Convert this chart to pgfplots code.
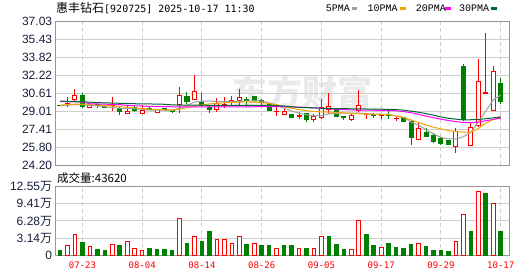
\documentclass[border=0pt]{standalone}
\usepackage{fontspec}
\setmainfont{Liberation Sans}
\newfontfamily\cjk{Noto Sans CJK SC}
\newfontfamily\mono{DejaVu Sans Mono}
\newfontfamily\serifmono{Liberation Mono}
\usepackage{pgfplots}
\usepackage{pgfplotstable}
\pgfplotsset{compat=1.18}

\definecolor{upred}{RGB}{255,0,0}
\definecolor{dngreen}{RGB}{0,128,0}
\definecolor{maA}{RGB}{160,160,160}
\definecolor{maB}{RGB}{240,165,0}
\definecolor{maC}{RGB}{255,0,255}
\definecolor{maD}{RGB}{0,102,51}
\definecolor{gridc}{RGB}{206,206,206}
\definecolor{framec}{RGB}{150,150,150}
\definecolor{ticktext}{RGB}{25,30,60}
\definecolor{wmark}{RGB}{234,234,234}

\pgfplotstableread{
i o h l c u
0 29.58 29.62 29.50 29.55 0
1 29.68 30.26 29.37 29.76 1
2 30.08 31.06 29.96 30.46 1
3 30.40 30.70 29.28 29.42 0
4 29.37 29.72 29.28 29.57 1
5 29.60 29.65 29.28 29.55 0
6 29.40 29.50 29.33 29.35 0
7 29.55 30.26 29.05 29.62 1
8 29.25 29.42 28.70 29.05 0
9 28.84 29.55 28.80 29.05 1
10 29.35 29.50 29.00 29.12 0
11 28.84 29.60 28.78 29.13 1
12 29.25 29.50 29.10 29.20 0
13 28.92 29.25 28.90 29.19 1
14 29.25 29.30 29.10 29.18 0
15 29.12 29.15 28.90 28.98 0
16 29.64 31.20 28.84 30.46 1
17 30.32 30.76 29.72 29.93 0
18 30.10 32.25 30.02 30.76 1
19 29.87 30.67 29.50 29.57 0
20 29.35 29.60 28.85 29.20 0
21 29.20 30.25 28.98 29.72 1
22 29.55 30.26 29.35 29.62 1
23 29.85 30.35 29.50 29.95 1
24 30.00 31.00 29.60 30.25 1
25 30.05 30.27 29.57 29.98 0
26 30.38 30.40 29.90 30.02 0
27 29.98 30.10 29.60 29.85 0
28 29.60 29.60 29.05 29.07 0
29 29.00 29.50 28.62 29.05 1
30 28.75 29.20 28.75 28.98 1
31 28.75 28.80 28.40 28.45 0
32 28.60 28.98 28.30 28.65 1
33 28.84 28.90 28.10 28.25 0
34 28.28 28.75 28.05 28.52 1
35 28.45 30.10 28.30 29.35 1
36 29.17 30.67 28.75 29.45 1
37 29.28 29.30 28.50 28.60 0
38 28.55 28.60 28.25 28.50 0
39 28.30 28.75 28.20 28.62 1
40 29.07 30.90 28.95 29.50 1
41 28.70 28.85 28.30 28.75 1
42 28.72 28.90 28.45 28.65 0
43 28.62 28.72 28.30 28.66 1
44 28.70 29.10 28.35 28.62 0
45 28.38 28.55 28.20 28.42 1
46 28.45 28.50 28.10 28.15 0
47 28.10 28.25 26.05 26.65 0
48 26.50 28.00 26.45 27.50 1
49 27.15 27.50 26.75 26.80 0
50 26.90 27.05 26.15 26.30 0
51 26.60 26.70 26.05 26.15 0
52 26.45 26.45 26.05 26.07 0
53 25.85 27.55 25.32 27.20 1
54 33.00 33.22 28.18 28.25 0
55 26.00 27.94 25.98 27.55 1
56 27.75 33.67 27.60 31.65 1
57 30.65 36.05 30.60 30.72 1
58 29.13 33.07 29.10 32.55 1
59 31.50 32.00 29.72 29.93 0
}\candles

\pgfplotstableread{
i ma5 ma10 ma20 ma30
0 29.51 29.57 29.88 29.93
1 29.57 29.62 29.88 29.92
2 29.62 29.66 29.87 29.90
3 29.60 29.66 29.85 29.88
4 29.55 29.62 29.70 29.84
5 29.50 29.58 29.68 29.80
6 29.45 29.55 29.66 29.78
7 29.35 29.50 29.64 29.76
8 29.30 29.45 29.62 29.74
9 29.28 29.38 29.55 29.72
10 29.25 29.33 29.52 29.70
11 29.20 29.28 29.50 29.69
12 29.14 29.22 29.46 29.68
13 29.12 29.18 29.45 29.67
14 29.12 29.16 29.44 29.65
15 29.10 29.15 29.43 29.60
16 29.30 29.20 29.42 29.58
17 29.55 29.35 29.42 29.57
18 29.85 29.50 29.42 29.57
19 29.92 29.60 29.42 29.57
20 29.95 29.68 29.42 29.56
21 29.90 29.74 29.42 29.56
22 29.88 29.78 29.42 29.56
23 29.90 29.82 29.42 29.55
24 29.93 29.85 29.42 29.55
25 29.95 29.86 29.42 29.55
26 29.97 29.85 29.43 29.55
27 29.95 29.80 29.44 29.55
28 29.78 29.72 29.45 29.54
29 29.55 29.62 29.45 29.53
30 29.30 29.45 29.45 29.50
31 29.05 29.30 29.42 29.42
32 28.85 29.18 29.40 29.38
33 28.72 29.08 29.37 29.35
34 28.62 29.00 29.33 29.33
35 28.65 28.98 29.28 29.30
36 28.80 28.95 29.24 29.28
37 28.84 28.93 29.20 29.27
38 28.86 28.88 29.17 29.26
39 28.86 28.84 29.15 29.25
40 28.88 28.80 29.14 29.24
41 28.80 28.78 29.13 29.23
42 28.78 28.76 29.12 29.22
43 28.76 28.74 29.11 29.21
44 28.76 28.72 29.10 29.20
45 28.60 28.62 29.07 29.18
46 28.48 28.48 29.00 29.12
47 28.05 28.25 28.90 29.04
48 27.80 28.02 28.75 28.94
49 27.40 27.80 28.60 28.82
50 27.00 27.60 28.45 28.68
51 26.70 27.45 28.32 28.52
52 26.55 27.30 28.20 28.40
53 26.55 27.20 28.10 28.32
54 26.75 27.17 28.03 28.26
55 27.15 27.16 28.00 28.27
56 28.08 27.48 28.05 28.30
57 29.05 27.95 28.18 28.36
58 30.05 28.30 28.30 28.44
59 30.46 28.59 28.40 28.50
}\ma

\pgfplotstableread{
i v u
0 9200 0
1 17900 1
2 38200 1
3 24000 0
4 16000 1
5 11000 0
6 9200 0
7 19700 1
8 18500 0
9 25300 1
10 12300 1
11 8600 1
12 12900 0
13 11000 0
14 11000 0
15 9200 0
16 67700 1
17 22200 0
18 34500 1
19 25800 0
20 44300 0
21 29000 1
22 29000 1
23 21600 1
24 34500 1
25 20300 0
26 22200 1
27 18500 0
28 18500 0
29 12300 1
30 18500 0
31 18500 0
32 12300 1
33 12300 0
34 12300 1
35 35000 1
36 35000 0
37 20300 0
38 11000 0
39 10500 1
40 64000 1
41 38800 0
42 18500 0
43 14200 1
44 22200 0
45 14800 0
46 12900 0
47 20300 0
48 21600 1
49 16600 0
50 9200 0
51 9200 0
52 7400 0
53 25300 1
54 75100 1
55 44300 0
56 117600 1
57 112600 0
58 95400 1
59 43620 0
}\vol

\begin{document}
\begin{tikzpicture}
\path[use as bounding box] (0,0) rectangle (530bp,276bp);

% watermark
\node[text=wmark, font=\cjk\bfseries\fontsize{35bp}{35bp}\selectfont, inner sep=0pt] at (302bp,184bp) {东方财富};

% title
\node[anchor=west, inner sep=0pt] at (56bp,267.7bp) {{\cjk\fontsize{12bp}{12bp}\selectfont 惠丰钻石}{\mono\fontsize{10bp}{10bp}\selectfont [920725] 2025-10-17 11:30}};

% legend
\begin{scope}[every node/.style={anchor=west, inner sep=0pt, font=\serifmono\fontsize{10bp}{10bp}\selectfont}]
\node at (325.7bp,267.3bp) {5PMA};
\fill[maA] (351.7bp,265.6bp) rectangle (357.3bp,268.6bp);
\node at (367.3bp,267.3bp) {10PMA};
\fill[maB] (400bp,265.6bp) rectangle (405.6bp,268.6bp);
\node at (415.7bp,267.3bp) {20PMA};
\fill[maC] (445bp,265.6bp) rectangle (450.6bp,268.6bp);
\node at (459bp,267.3bp) {30PMA};
\fill[maD] (491bp,265.6bp) rectangle (496.6bp,268.6bp);
\end{scope}

% volume label
\node[anchor=west, inner sep=0pt, font=\cjk\fontsize{11.5bp}{11.5bp}\selectfont] at (57bp,98.3bp) {成交量:43620};

\begin{axis}[
  at={(55.3bp,110.7bp)}, anchor=south west,
  scale only axis, width=454bp, height=143.6bp,
  xmin=-0.63, xmax=60.15, ymin=24.20, ymax=37.03,
  xtick={3,11,19,27,35,43,51,59}, xticklabels={},
  ytick={24.20,25.80,27.41,29.01,30.61,32.22,33.82,35.43,37.03},
  yticklabels={24.20,25.80,27.41,29.01,30.61,32.22,33.82,35.43,37.03},
  major tick length=0pt,
  xmajorgrids, ymajorgrids,
  x grid style={gridc, dash pattern=on 4bp off 3bp, line width=1bp},
  y grid style={gridc, line width=1bp},
  axis line style={framec, line width=1bp},
  yticklabel style={font=\fontsize{12bp}{12bp}\selectfont, text=ticktext, inner sep=0pt, xshift=-3bp},
]
\pgfplotsinvokeforeach{0,...,59}{%
  \pgfplotstablegetelem{#1}{o}\of\candles \let\cO\pgfplotsretval
  \pgfplotstablegetelem{#1}{h}\of\candles \let\cH\pgfplotsretval
  \pgfplotstablegetelem{#1}{l}\of\candles \let\cL\pgfplotsretval
  \pgfplotstablegetelem{#1}{c}\of\candles \let\cC\pgfplotsretval
  \pgfplotstablegetelem{#1}{u}\of\candles \let\cU\pgfplotsretval
  \ifnum\cU=1 \def\cCol{upred}\def\cFill{white}\else\def\cCol{dngreen}\def\cFill{dngreen}\fi
  \pgfmathsetmacro\xa{#1-0.27}%
  \pgfmathsetmacro\xb{#1+0.27}%
  \edef\doCandle{%
    \noexpand\addplot[draw=\cCol, line width=1bp, forget plot] coordinates {(#1,\cL) (#1,\cH)};
    \noexpand\addplot[draw=\cCol, fill=\cFill, line width=1bp, forget plot] coordinates {(\xa,\cO) (\xb,\cO) (\xb,\cC) (\xa,\cC)} -- cycle;
  }%
  \doCandle
}
\addplot[maA, line width=1bp, forget plot] table[x=i, y=ma5]{\ma};
\addplot[maB, line width=1bp, forget plot] table[x=i, y=ma10]{\ma};
\addplot[maC, line width=1bp, forget plot] table[x=i, y=ma20]{\ma};
\addplot[maD, line width=1bp, forget plot] table[x=i, y=ma30]{\ma};
\end{axis}

\begin{axis}[
  at={(55.3bp,20.7bp)}, anchor=south west,
  scale only axis, width=454bp, height=68.6bp,
  xmin=-0.63, xmax=60.15, ymin=0, ymax=125500,
  xtick={3,11,19,27,35,43,51,59},
  xticklabels={07-23,08-04,08-14,08-26,09-05,09-17,09-29,10-17},
  xticklabel style={font=\mono\fontsize{9bp}{9bp}\selectfont, text=upred, inner sep=0pt, yshift=-6bp},
  ytick={0,31375,62750,94125,125500},
  yticklabels={0,3.14{\cjk 万},6.28{\cjk 万},9.41{\cjk 万},12.55{\cjk 万}},
  scaled y ticks=false,
  major tick length=0pt,
  xmajorgrids, ymajorgrids,
  x grid style={gridc, dash pattern=on 4bp off 3bp, line width=1bp},
  y grid style={gridc, line width=1bp},
  axis line style={framec, line width=1bp},
  yticklabel style={font=\fontsize{12bp}{12bp}\selectfont, text=ticktext, inner sep=0pt, xshift=-3bp},
]
\addplot[ybar, bar width=3.6bp, bar shift=0pt, draw=dngreen, fill=dngreen, line width=1bp,
  restrict expr to domain={\thisrow{u}}{0:0}] table[x=i, y=v]{\vol};
\addplot[ybar, bar width=3.6bp, bar shift=0pt, draw=upred, fill=white, line width=1bp,
  restrict expr to domain={\thisrow{u}}{1:1}] table[x=i, y=v]{\vol};
\end{axis}
\end{tikzpicture}
\end{document}
